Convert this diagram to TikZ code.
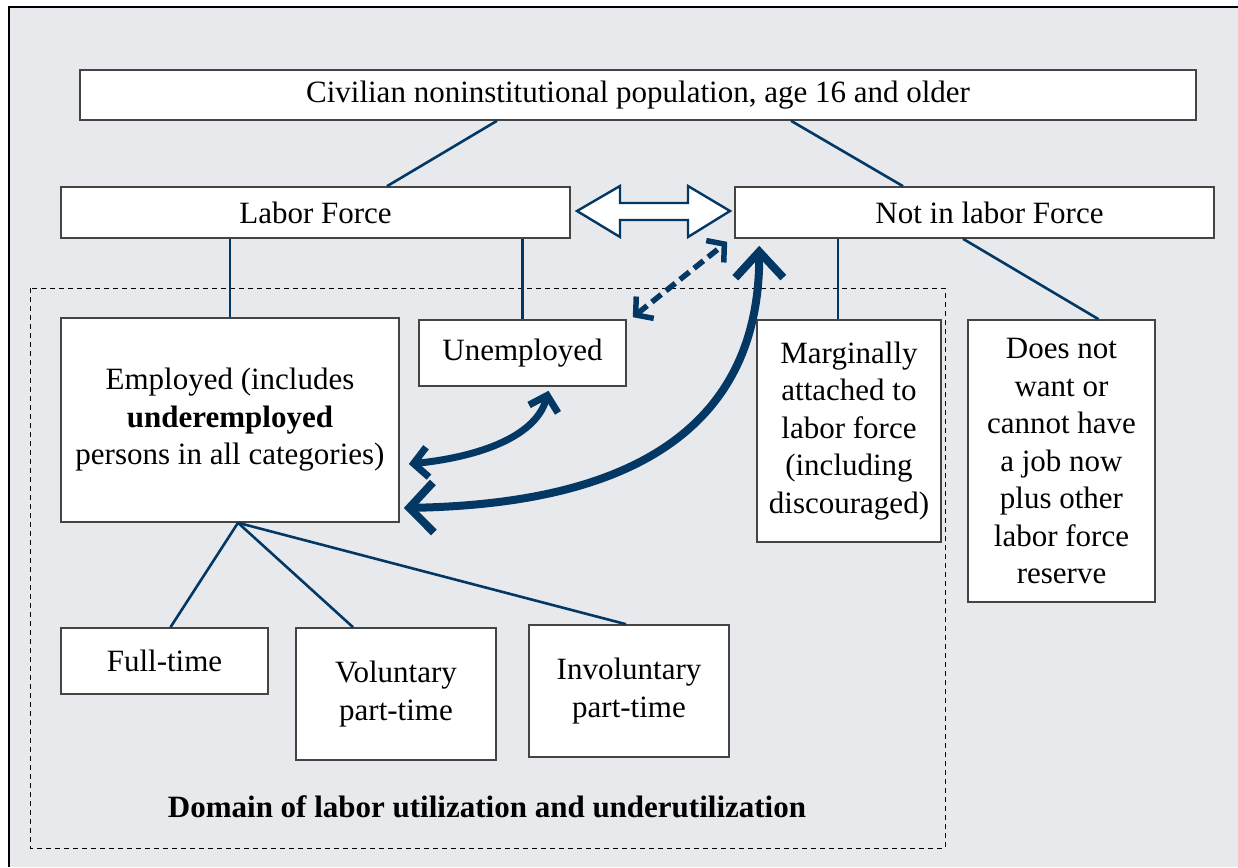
\documentclass[tikz,border=0pt]{standalone}
\usepackage{fontspec}
\setmainfont{Liberation Serif}
\usetikzlibrary{arrows.meta}

\definecolor{panelgray}{RGB}{232,233,237}
\definecolor{navy}{RGB}{4,56,100}
\definecolor{boxline}{RGB}{68,68,68}

\tikzset{
  box/.style={draw=boxline, line width=1.6pt, fill=white, align=center,
    inner sep=0pt, font=\fontsize{31}{37.5}\selectfont},
  link/.style={draw=navy, line width=2.6pt},
  flow/.style={draw=navy, line width=7pt, {Straight Barb[length=14pt,width=30pt]}-{Straight Barb[length=14pt,width=30pt]}},
  bigflow/.style={draw=navy, line width=8pt, {Straight Barb[length=26pt,width=48pt]}-{Straight Barb[length=24pt,width=50pt]}},
}

\begin{document}
\begin{tikzpicture}[x=1pt,y=-1pt]
  \useasboundingbox (0,0) rectangle (1238,867);

  % panel
  \fill[panelgray] (9,7) rectangle (1238,867);
  \draw[line width=1.6pt] (9,867) -- (9,7) -- (1238,7);

  % domain of utilization
  \draw[dashed, line width=0.8pt, dash pattern=on 5pt off 4pt] (30,288) rectangle (945,848);
  \node[font=\fontsize{31}{37}\selectfont\bfseries] (domain) at (487,807) {Domain of labor utilization and underutilization};

  % boxes
  \node[box, minimum width=1116pt, minimum height=50pt] (pop) at (638,95) {Civilian noninstitutional population, age 16 and older};
  \node[box, minimum width=509pt, minimum height=51pt] (lf) at (315.5,212.5) {Labor Force};
  \node[box, minimum width=479pt, minimum height=51pt] (nlf) at (974.5,212.5) {\hspace*{30pt}Not in labor Force};
  \node[box, minimum width=338pt, minimum height=204pt] (emp) at (230,420) {Employed (includes\\ \textbf{underemployed}\\ persons in all categories)};
  \node[box, minimum width=207pt, minimum height=66pt] (unemp) at (522.5,353) {Unemployed};
  \node[box, minimum width=184pt, minimum height=222pt] (marg) at (849,431) {Marginally\\ attached to\\ labor force\\ (including\\ discouraged)};
  \node[box, minimum width=187pt, minimum height=282pt] (dnw) at (1061.5,461) {Does not\\ want or\\ cannot have\\ a job now\\ plus other\\ labor force\\ reserve};
  \node[box, minimum width=207pt, minimum height=66pt] (full) at (164.5,661) {Full-time};
  \node[box, minimum width=200pt, minimum height=132pt] (vol) at (396,694) {Voluntary\\ part-time};
  \node[box, minimum width=200pt, minimum height=132pt] (invol) at (629,691) {Involuntary\\ part-time};

  % tree lines
  \draw[link] ([xshift=-141pt]pop.south) -- ([xshift=71.5pt]lf.north);
  \draw[link] ([xshift=153pt]pop.south) -- ([xshift=-71.5pt]nlf.north);
  \draw[link] (lf.south -| emp.north) -- (emp.north);
  \draw[link] (lf.south -| unemp.north) -- (unemp.north);
  \draw[link] ([xshift=-11pt]marg.north |- nlf.south) -- ([xshift=-11pt]marg.north);
  \draw[link] ([xshift=-11.5pt]nlf.south) -- ([xshift=37pt]dnw.north);
  \draw[link] ([xshift=8pt]emp.south) -- ([xshift=6pt]full.north);
  \draw[link] ([xshift=8pt]emp.south) -- ([xshift=-43pt]vol.north);
  \draw[link] ([xshift=8pt]emp.south) -- ([xshift=-3pt]invol.north);

  % hollow double arrow between the two forces
  \draw[navy, line width=2.4pt, fill=white, line join=miter]
    (577,211) -- (620,186) -- (620,203) -- (688,203) -- (688,186) -- (730,211)
    -- (688,237) -- (688,220) -- (620,220) -- (620,237) -- cycle;

  % flows
  \draw[navy, line width=5.5pt, dash pattern=on 12pt off 6pt,
    {Straight Barb[length=12pt,width=28pt]}-{Straight Barb[length=12pt,width=28pt]}]
    ([shift={(6,-2)}]unemp.north east) -- ([shift={(-7,3)}]nlf.south west);
  \draw[flow] ([shift={(26,4)}]unemp.south) .. controls (535,440) and (470,458) .. ([shift={(9,44)}]emp.east);
  \draw[bigflow] ([shift={(25,7)}]nlf.south west) .. controls (760,470) and (560,505) .. ([shift={(4,88)}]emp.east);
\end{tikzpicture}
\end{document}
